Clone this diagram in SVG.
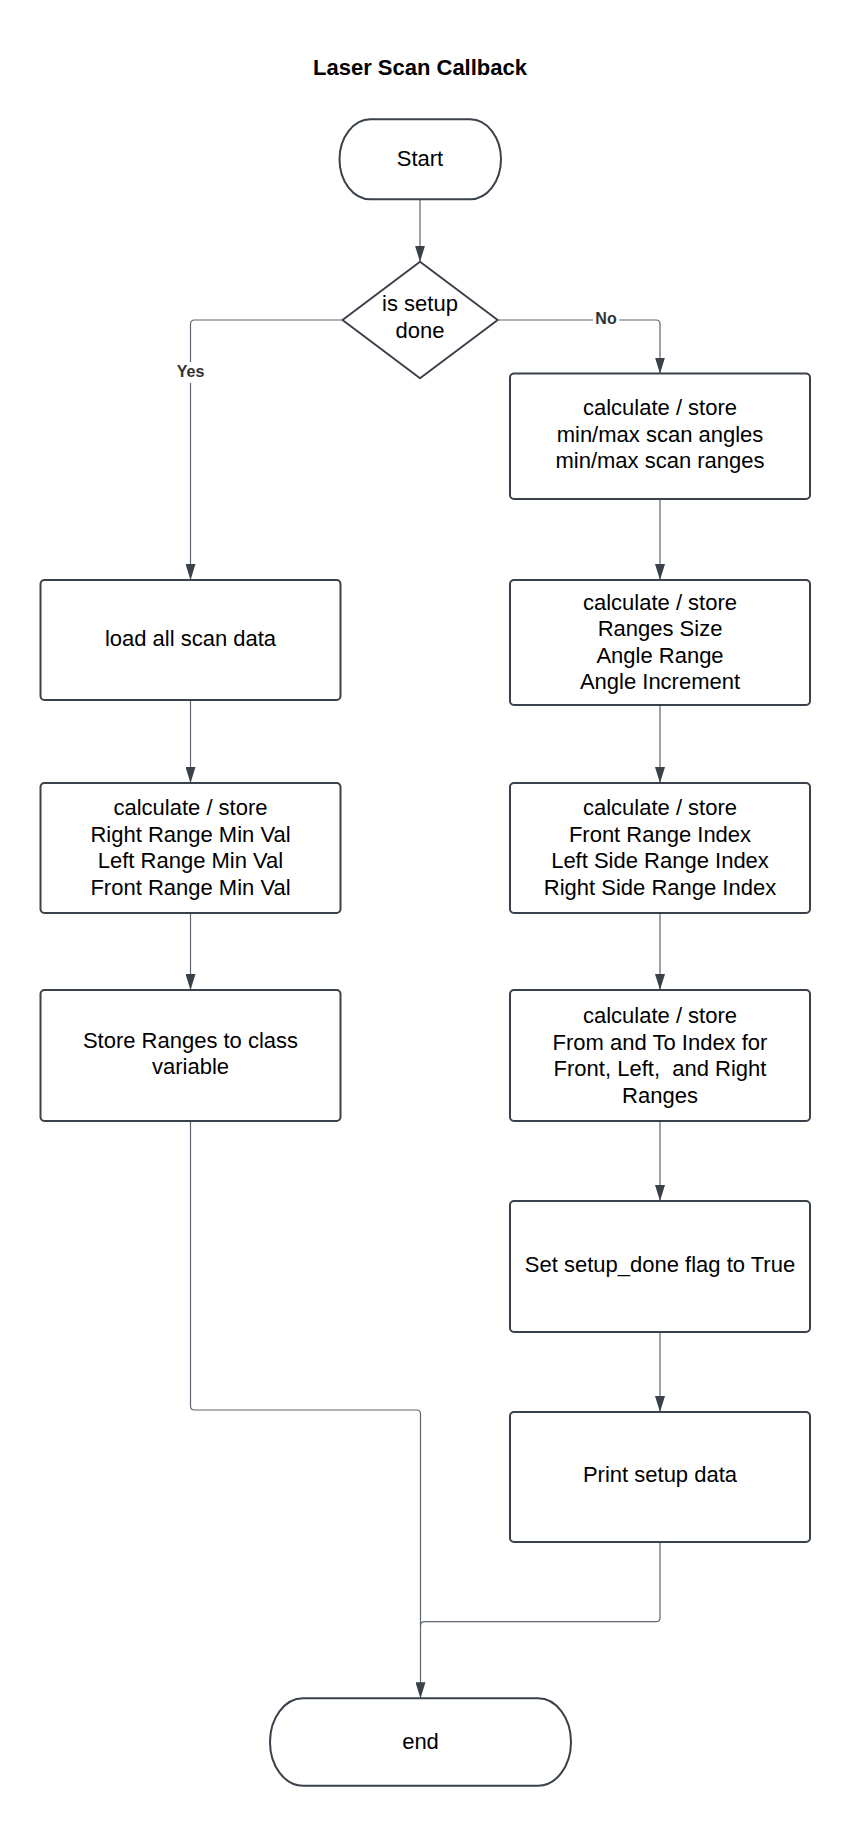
<svg xmlns="http://www.w3.org/2000/svg" width="850" height="1827" viewBox="0 0 850 1827">
  <style>
    .node { fill: #ffffff; stroke: #3a414a; stroke-width: 2; }
    .t { font-family: "Liberation Sans", Arial, sans-serif; font-size: 22px; fill: #000000; text-anchor: middle; }
    .title { font-family: "Liberation Sans", Arial, sans-serif; font-size: 22px; font-weight: bold; fill: #000000; text-anchor: middle; }
    .lbl { font-family: "Liberation Sans", Arial, sans-serif; font-size: 16px; font-weight: bold; fill: #333333; text-anchor: middle; }
    .edge { fill: none; stroke: #5e6670; stroke-width: 1.2; }
    .arrow { marker-end: url(#ah); }
  </style>
  <defs>
    <marker id="ah" viewBox="0 0 16 10" refX="16" refY="5" markerWidth="16" markerHeight="10" markerUnits="userSpaceOnUse" orient="auto">
      <path d="M0,0 L16,5 L0,10 z" fill="#3a414a"/>
    </marker>
  </defs>
  <rect width="850" height="1827" fill="#ffffff"/>

  <text class="title" x="420" y="74.5">Laser Scan Callback</text>

  <g id="connectors">
    <path class="edge arrow" d="M420,199.3 L420,261.7"/>
    <path class="edge arrow" d="M342.5,320 L194.5,320 Q190.5,320 190.5,324 L190.5,580"/>
    <path class="edge arrow" d="M497.7,320 L656,320 Q660,320 660,324 L660,373.5"/>
    <path class="edge arrow" d="M660,499 L660,580"/>
    <path class="edge arrow" d="M190.5,700 L190.5,783"/>
    <path class="edge arrow" d="M660,705 L660,783"/>
    <path class="edge arrow" d="M190.5,913 L190.5,990"/>
    <path class="edge arrow" d="M660,913 L660,990"/>
    <path class="edge arrow" d="M660,1121 L660,1201"/>
    <path class="edge arrow" d="M660,1332 L660,1412"/>
    <path class="edge arrow" d="M190.5,1121 L190.5,1406 Q190.5,1410 194.5,1410 L416.5,1410 Q420.5,1410 420.5,1414 L420.5,1698.3"/>
    <path class="edge" d="M660,1542 L660,1617.7 Q660,1621.7 656,1621.7 L424.5,1621.7 Q420.5,1621.7 420.5,1625.7"/>
    <g id="edge-labels">
      <rect x="174" y="362" width="33" height="21" fill="#ffffff"/>
      <text class="lbl" x="190.5" y="377">Yes</text>
      <rect x="593" y="309" width="26" height="20" fill="#ffffff"/>
      <text class="lbl" x="606" y="323.5">No</text>
    </g>
  </g>

  <g id="start">
    <rect class="node" x="339.5" y="119.3" width="161.5" height="80" rx="31" ry="40"/>
    <text class="t" x="420" y="165.5">Start</text>
  </g>

  <g id="decision">
    <path class="node" d="M420,261.7 L497.7,320 L420,378.3 L342.5,320 Z" stroke-linejoin="round"/>
    <text class="t" x="420" y="311">is setup</text>
    <text class="t" x="420" y="337.5">done</text>
  </g>

  <g id="r1">
    <rect class="node" x="510" y="373.5" width="300" height="125.5" rx="4"/>
    <text class="t" x="660" y="415">calculate / store</text>
    <text class="t" x="660" y="441.5">min/max scan angles</text>
    <text class="t" x="660" y="468">min/max scan ranges</text>
  </g>

  <g id="r2">
    <rect class="node" x="510" y="580" width="300" height="125" rx="4"/>
    <text class="t" x="660" y="609.5">calculate / store</text>
    <text class="t" x="660" y="636">Ranges Size</text>
    <text class="t" x="660" y="662.5">Angle Range</text>
    <text class="t" x="660" y="689">Angle Increment</text>
  </g>

  <g id="l1">
    <rect class="node" x="40.5" y="580" width="300" height="120" rx="4"/>
    <text class="t" x="190.5" y="646">load all scan data</text>
  </g>

  <g id="l2">
    <rect class="node" x="40.5" y="783" width="300" height="130" rx="4"/>
    <text class="t" x="190.5" y="815">calculate / store</text>
    <text class="t" x="190.5" y="841.5">Right Range Min Val</text>
    <text class="t" x="190.5" y="868">Left Range Min Val</text>
    <text class="t" x="190.5" y="894.5">Front Range Min Val</text>
  </g>

  <g id="r3">
    <rect class="node" x="510" y="783" width="300" height="130" rx="4"/>
    <text class="t" x="660" y="815">calculate / store</text>
    <text class="t" x="660" y="841.5">Front Range Index</text>
    <text class="t" x="660" y="868">Left Side Range Index</text>
    <text class="t" x="660" y="894.5">Right Side Range Index</text>
  </g>

  <g id="l3">
    <rect class="node" x="40.5" y="990" width="300" height="131" rx="4"/>
    <text class="t" x="190.5" y="1047.5">Store Ranges to class</text>
    <text class="t" x="190.5" y="1074">variable</text>
  </g>

  <g id="r4">
    <rect class="node" x="510" y="990" width="300" height="131" rx="4"/>
    <text class="t" x="660" y="1023">calculate / store</text>
    <text class="t" x="660" y="1049.5">From and To Index for</text>
    <text class="t" x="660" y="1076" xml:space="preserve">Front, Left,  and Right</text>
    <text class="t" x="660" y="1102.5">Ranges</text>
  </g>

  <g id="r5">
    <rect class="node" x="510" y="1201" width="300" height="131" rx="4"/>
    <text class="t" x="660" y="1272">Set setup_done flag to True</text>
  </g>

  <g id="r6">
    <rect class="node" x="510" y="1412" width="300" height="130" rx="4"/>
    <text class="t" x="660" y="1482">Print setup data</text>
  </g>

  <g id="end">
    <rect class="node" x="270" y="1698.3" width="301" height="87.4" rx="33" ry="43.7"/>
    <text class="t" x="420.5" y="1749">end</text>
  </g>
</svg>
